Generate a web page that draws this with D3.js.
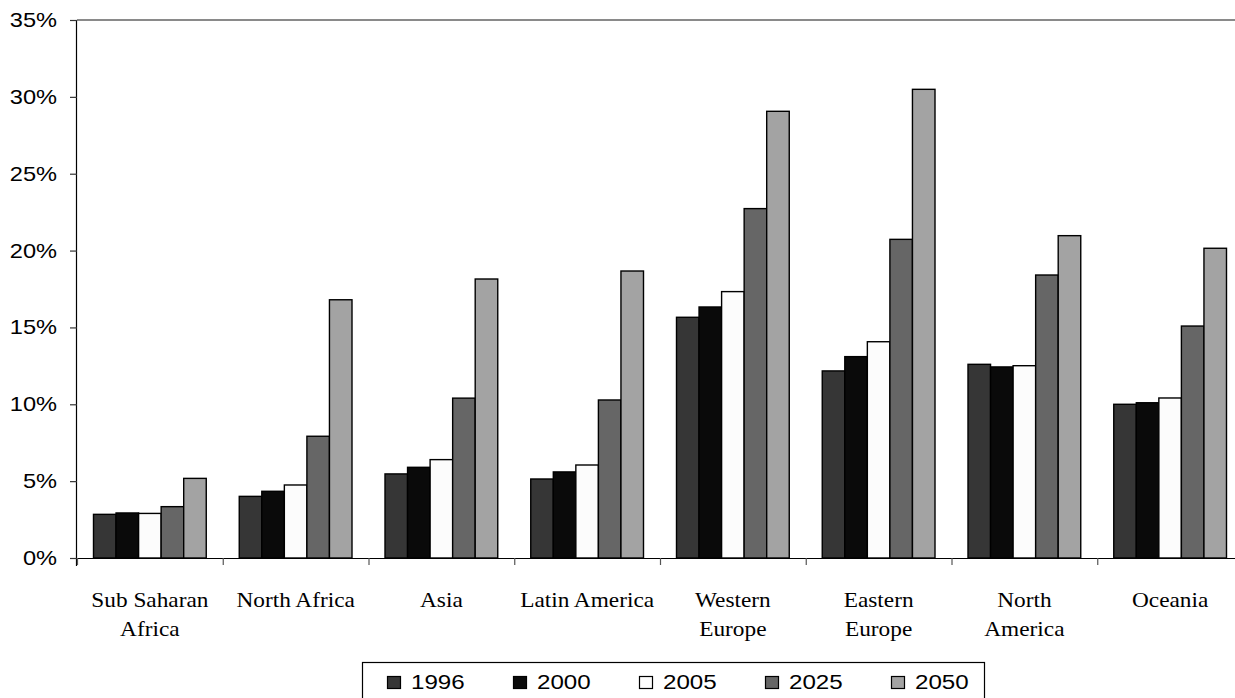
<!DOCTYPE html>
<html><head><meta charset="utf-8">
<script src="https://cdn.jsdelivr.net/npm/d3@7"></script>
<style>body{margin:0;background:#fff;}svg{display:block;}</style>
</head><body>
<svg id="c" width="1235" height="698"></svg>
<script>
const categories = [["Sub Saharan","Africa"],["North Africa"],["Asia"],["Latin America"],["Western","Europe"],["Eastern","Europe"],["North","America"],["Oceania"]];
const seriesNames = ["1996","2000","2005","2025","2050"];
const v1996 = [2.84, 4.01, 5.47, 5.14, 15.66, 12.17, 12.60, 10.00];
const v2000 = [2.93, 4.34, 5.90, 5.60, 16.33, 13.10, 12.43, 10.10];
const v2005 = [2.90, 4.75, 6.40, 6.05, 17.33, 14.07, 12.51, 10.41];
const v2025 = [3.34, 7.92, 10.40, 10.28, 22.73, 20.73, 18.41, 15.09];
const v2050 = [5.18, 16.80, 18.15, 18.67, 29.06, 30.49, 20.97, 20.15];
const seriesColors = ["#363636","#0a0a0a","#fcfcfc","#666666","#a3a3a3"];
const yTicks = [0,5,10,15,20,25,30,35];

(function(){
const series = [v1996,v2000,v2005,v2025,v2050];
const svg = d3.select("#c");
const pL = 77, pR = 1243, pT = 20, pB = 558;

const x0 = d3.scaleBand().domain(d3.range(categories.length)).range([pL,pR]).padding(0);
const x1 = d3.scaleBand().domain(d3.range(seriesNames.length)).range([16.5, x0.bandwidth()-16.5]).padding(0);
const y = d3.scaleLinear().domain([0,35]).range([pB,pT]);

svg.append("line").attr("x1",pL).attr("x2",1235).attr("y1",y(35)).attr("y2",y(35))
  .attr("stroke","#8a8a8a").attr("stroke-width",2);

categories.forEach((c,i)=>{
  const g = svg.append("g").attr("transform",`translate(${x0(i)},0)`);
  series.forEach((s,j)=>{
    g.append("rect").attr("x",x1(j)).attr("width",x1.bandwidth())
      .attr("y",y(s[i])).attr("height",y(0)-y(s[i]))
      .attr("fill",seriesColors[j]).attr("stroke","#000").attr("stroke-width",1.4);
  });
});

const yAxis = d3.axisLeft(y).tickValues(yTicks).tickSize(7).tickFormat("");
const ya = svg.append("g").attr("transform",`translate(${pL},0)`).call(yAxis);
ya.select(".domain").attr("stroke","#000").attr("stroke-width",1.2).attr("d",`M-0.5,${pB+8}V${pT}`);
ya.selectAll(".tick line").attr("stroke","#333").attr("stroke-width",1.2);
yTicks.forEach(t=>{
  svg.append("text").attr("transform",`translate(57,${y(t)+7}) scale(1.18,1)`)
    .attr("text-anchor","end").attr("font-family","Liberation Sans, Arial, sans-serif")
    .attr("font-size",20).attr("fill","#000").text(t+"%");
});

const xTickVals = d3.range(categories.length+1).map(i=>pL + i*x0.bandwidth());
const xs = d3.scaleLinear().domain([pL,pR]).range([pL,pR]);
const xAxis = d3.axisBottom(xs).tickValues(xTickVals).tickSize(7).tickFormat("");
const xa = svg.append("g").attr("transform",`translate(0,${pB})`).call(xAxis);
xa.select(".domain").attr("stroke","#000").attr("stroke-width",1.2).attr("d",`M${pL},0.5H1235`);
xa.selectAll(".tick line").attr("stroke","#555").attr("stroke-width",1.2);

categories.forEach((lines,i)=>{
  const cx = x0(i)+x0.bandwidth()/2;
  lines.forEach((ln,k)=>{
    svg.append("text").attr("transform",`translate(${cx},${607+k*29}) scale(1.06,1)`)
      .attr("text-anchor","middle").attr("font-family","Liberation Serif, Times New Roman, serif")
      .attr("font-size",22).attr("fill","#000").text(ln);
  });
});

const lg = svg.append("g");
lg.append("rect").attr("x",362.5).attr("y",662.5).attr("width",622).attr("height",50)
  .attr("fill","#fff").attr("stroke","#000").attr("stroke-width",1.2);
seriesNames.forEach((n,j)=>{
  const lx = 387 + j*126;
  lg.append("rect").attr("x",lx+0.5).attr("y",676.5).attr("width",13).attr("height",12)
    .attr("fill",seriesColors[j]).attr("stroke","#000").attr("stroke-width",1.2);
  lg.append("text").attr("transform",`translate(${lx+24},689) scale(1.15,1)`)
    .attr("font-family","Liberation Sans, Arial, sans-serif").attr("font-size",21)
    .attr("fill","#000").text(n);
});
})();
</script>
</body></html>
